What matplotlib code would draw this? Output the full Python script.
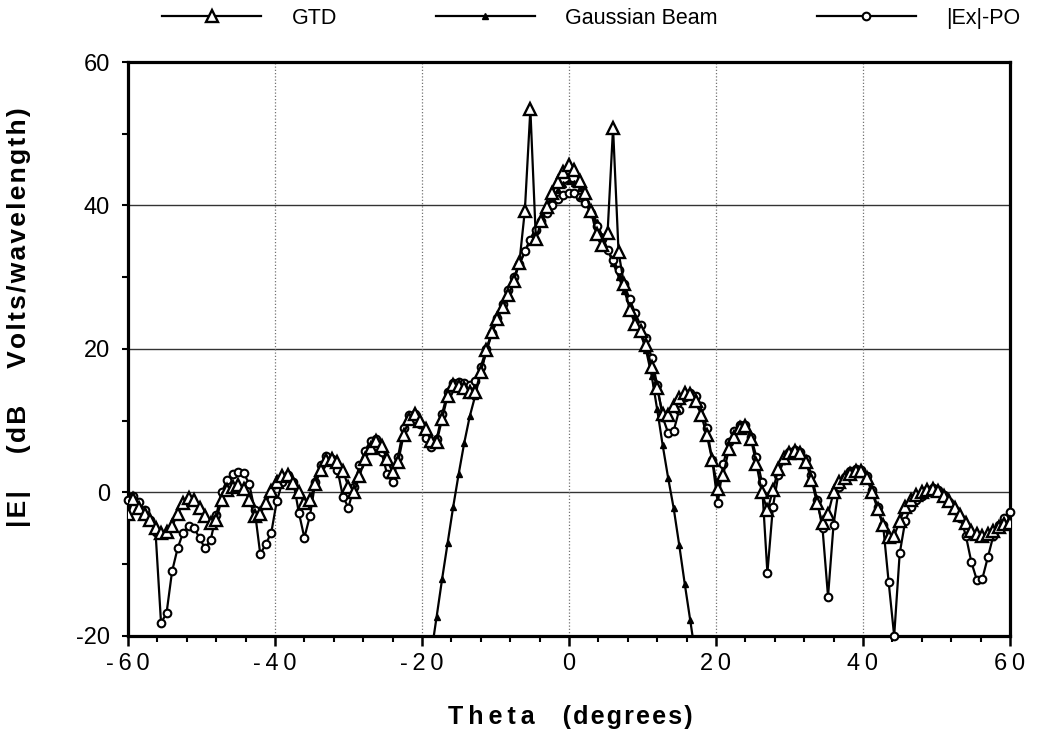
import numpy as np
import matplotlib
matplotlib.use("Agg")
import matplotlib.pyplot as plt
from matplotlib.ticker import MultipleLocator, FixedLocator

plt.rcParams['font.family'] = ['Liberation Sans', 'DejaVu Sans']

# sampling grid of the computed patterns (0.75 degree step)
theta = np.linspace(-60, 60, 161)

gtd = [-3.0, -0.9, -2.2, -3.0, -3.8, -4.9, -5.6, -5.5, -4.7, -3.0,
       -1.5, -0.8, -1.0, -2.2, -3.3, -4.3, -3.8, -1.0, 0.4, 0.8,
       1.1, 0.5, -1.0, -3.3, -3.0, -1.5, 0.2, 1.5, 2.3, 2.5,
       1.3, 0.0, -1.4, -1.0, 1.2, 3.2, 4.5, 4.6, 4.2, 3.0,
       0.8, 0.0, 2.3, 4.7, 6.2, 7.2, 6.5, 4.6, 2.8, 4.2,
       8.0, 10.2, 10.9, 10.0, 8.8, 7.2, 7.0, 10.3, 13.5, 15.0,
       14.8, 14.5, 14.0, 14.0, 16.8, 19.8, 22.3, 24.2, 25.8, 27.5,
       29.5, 32.0, 39.3, 53.4, 35.3, 37.8, 39.8, 41.8, 43.3, 44.6,
       45.6, 44.9, 43.4, 41.8, 39.2, 36.0, 34.5, 36.1, 50.8, 33.5,
       29.0, 25.5, 23.5, 22.5, 20.5, 17.5, 14.5, 11.0, 10.8, 12.0,
       13.2, 13.8, 13.7, 12.8, 10.8, 8.0, 4.5, 0.5, 2.5, 6.0,
       7.8, 9.0, 9.2, 7.5, 4.0, 0.0, -2.5, 0.3, 3.3, 4.8,
       5.5, 5.8, 5.5, 4.2, 1.8, -1.5, -4.3, -3.0, 0.0, 1.5,
       2.0, 2.6, 3.0, 3.0, 2.0, 0.0, -2.3, -4.6, -6.2, -6.0,
       -4.0, -2.0, -1.0, -0.3, 0.0, 0.3, 0.5, 0.2, -0.5, -1.2,
       -2.2, -3.2, -4.3, -5.3, -5.8, -6.0, -5.8, -5.3, -4.8, -4.4,
       -4.3]

ex_po = [-1.0, -0.5, -1.3, -2.5, -3.8, -5.5, -18.2, -16.8, -11.0, -7.8,
         -5.6, -4.7, -4.9, -6.4, -7.8, -6.6, -3.2, 0.0, 1.8, 2.6,
         2.9, 2.7, 1.2, -2.5, -8.6, -7.2, -5.6, -1.2, 1.4, 2.4,
         1.5, -2.8, -6.3, -3.3, 1.5, 3.8, 5.1, 4.6, 3.2, -0.6,
         -2.1, 0.8, 3.8, 5.8, 7.2, 7.4, 5.6, 2.6, 1.4, 5.0,
         9.0, 10.8, 11.0, 9.6, 7.6, 6.4, 7.4, 11.0, 14.0, 15.3,
         15.4, 15.2, 15.0, 15.5, 17.5, 20.0, 22.2, 24.3, 26.3, 28.2,
         30.0, 31.8, 33.6, 35.2, 36.6, 37.9, 39.0, 40.0, 40.9, 41.5,
         41.8, 41.7, 41.2, 40.3, 38.9, 37.2, 35.4, 33.8, 32.4, 31.0,
         29.0, 27.0, 25.0, 23.3, 21.5, 18.8, 15.0, 10.5, 8.3, 8.6,
         11.5, 13.3, 13.9, 13.5, 12.0, 9.0, 4.5, -1.5, 4.0, 7.0,
         8.6, 9.4, 9.4, 7.8, 5.0, 1.5, -11.2, -2.0, 2.5, 4.5,
         5.6, 5.9, 5.6, 4.6, 2.5, -1.0, -5.0, -14.5, -4.5, 0.8,
         2.2, 3.0, 3.3, 3.2, 2.3, 0.3, -2.0, -4.6, -12.5, -20.0,
         -8.5, -4.0, -2.0, -1.0, -0.5, 0.3, 0.6, 0.3, -0.4, -1.3,
         -2.4, -3.5, -6.0, -9.7, -12.2, -12.0, -9.0, -6.0, -4.5, -3.5,
         -2.7]

# Gaussian beam samples from theta = -18.75 to 17.25
theta_gauss = theta[55:104]
gauss = [-22.5, -17.3, -12.0, -7.0, -2.0, 2.6, 6.9, 10.6, 13.5, 16.8,
         19.6, 22.1, 24.2, 26.1, 28.0, 29.9, 31.8, 33.6, 35.3, 36.9,
         38.4, 39.8, 41.1, 42.2, 43.0, 43.4, 43.2, 42.5, 41.3, 39.6,
         37.7, 35.8, 33.9, 32.0, 30.1, 28.1, 26.1, 24.1, 22.2, 19.8,
         16.3, 11.6, 6.6, 2.0, -2.2, -7.3, -12.7, -17.8, -23.0]

x_ticks = [-60, -40, -20, 0, 20, 40, 60]
x_labels = ['-60', '-40', '-20', '0', '20', '40', '60']
y_ticks = [-20, 0, 20, 40, 60]
y_labels = ['-20', '0', '20', '40', '60']


def spaced(s, sep='\u2009'):
    return sep.join(s)


fig = plt.figure(figsize=(10.37, 7.39), dpi=100)
ax = fig.add_axes([0.1234, 0.1394, 0.8505, 0.7767])

for yv in [0, 20, 40]:
    ax.axhline(yv, color='0.2', lw=1.0, zorder=1)
for xv in [-40, -20, 0, 20, 40]:
    ax.axvline(xv, color='0.45', lw=0.9, ls=(0, (1, 1.6)), zorder=1)

lg, = ax.plot(theta_gauss, gauss, color='black', lw=1.6, marker='^', ms=4.5,
              mfc='black', mec='black', zorder=2, label='Gaussian Beam')
lp, = ax.plot(theta, ex_po, color='black', lw=1.6, marker='o', ms=5.5,
              mfc='white', mec='black', mew=1.5, zorder=3, clip_on=False,
              label='|Ex|-PO')
lt, = ax.plot(theta, gtd, color='black', lw=1.6, marker='^', ms=8.5,
              mfc='white', mec='black', mew=1.7, zorder=4, label='GTD')

ax.set_xlim(-60, 60)
ax.set_ylim(-20, 60)

ax.xaxis.set_major_locator(FixedLocator(x_ticks))
ax.set_xticklabels([spaced(s) for s in x_labels])
ax.xaxis.set_minor_locator(MultipleLocator(4))
ax.yaxis.set_major_locator(FixedLocator(y_ticks))
ax.set_yticklabels(y_labels)
ax.yaxis.set_minor_locator(MultipleLocator(10))

ax.tick_params(axis='x', which='major', direction='out', length=7.5, width=1.8,
               labelsize=17, pad=5)
ax.tick_params(axis='x', which='minor', direction='out', length=4.5, width=1.5)
ax.tick_params(axis='y', which='major', direction='out', length=4, width=1.5,
               labelsize=17, pad=9)
ax.tick_params(axis='y', which='minor', direction='out', length=4, width=1.5)

for s in ax.spines.values():
    s.set_linewidth(2.3)

ax.set_xlabel(spaced('Theta') + '    ' + spaced('(degrees)', '\u200a'),
              fontsize=18, fontweight='bold')
ax.xaxis.set_label_coords(0.502, -0.12)
ax.set_ylabel(spaced('|E|', '\u200a') + '     ' + spaced('(dB', '\u200a') + '     ' +
              spaced('Volts/wavelength)', '\u200a'), fontsize=19, fontweight='bold')
ax.yaxis.set_label_coords(-0.11, 0.555)

fig.legend(handles=[lt, lg, lp], labels=['GTD', 'Gaussian Beam', '|Ex|-PO'],
           ncol=3, loc='center', bbox_to_anchor=(0.570, 0.975), frameon=False,
           handlelength=4.6, handletextpad=1.4, columnspacing=4.6,
           fontsize=15.5, numpoints=1)

fig.savefig('out.png', dpi=100)
